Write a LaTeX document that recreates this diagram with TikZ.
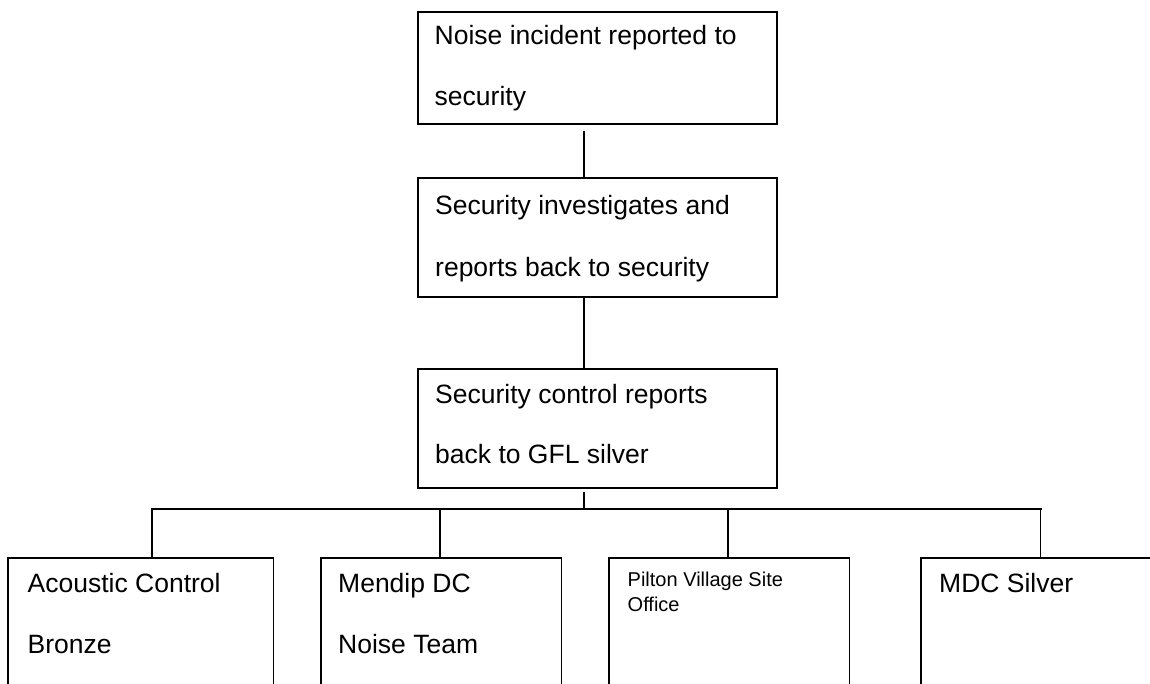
\documentclass[tikz,border=0pt]{standalone}
\usepackage{fontspec}
\setmainfont{Liberation Sans}
\begin{document}
\begin{tikzpicture}[x=1pt,y=-1pt,
  box/.style={draw, line width=1.8pt, rectangle, inner sep=0pt, anchor=north west},
  big/.style={font=\fontsize{26.5}{30}\selectfont, anchor=base west, inner sep=0pt},
  small/.style={font=\fontsize{20}{24}\selectfont, anchor=base west, inner sep=0pt},
  conn/.style={line width=1.4pt},
  bus/.style={line width=2pt, line cap=rect}]
\useasboundingbox (0,0) rectangle (1150,684);
\fill[white] (0,0) rectangle (1150,684);
\clip (0,0) rectangle (1150,684);
% top column boxes
\node[box, minimum width=359pt, minimum height=112pt] (b1) at (417,11) {};
\node[box, minimum width=359pt, minimum height=118.5pt] (b2) at (417,177.5) {};
\node[box, minimum width=359pt, minimum height=119pt] (b3) at (417,368) {};
% child boxes (cut off at the bottom)
\node[box, minimum width=265.5pt, minimum height=160pt] (a) at (7,557) {};
\node[box, minimum width=240.5pt, minimum height=160pt] (b) at (320,557) {};
\node[box, minimum width=240.5pt, minimum height=160pt] (c) at (608,557) {};
\node[box, minimum width=241pt, minimum height=160pt] (d) at (920,557) {};
% texts
\node[big] (t1a) at (434.5,45) {Noise incident reported to};
\node[big] (t1b) at (434.5,106) {security};
\node[big] (t2a) at (435,215) {Security investigates and};
\node[big] (t2b) at (435,277) {reports back to security};
\node[big] (t3a) at (435,403) {Security control reports};
\node[big] (t3b) at (435,463) {back to GFL silver};
\node[big] (tAa) at (27.5,592.7) {Acoustic Control};
\node[big] (tAb) at (27.5,653) {Bronze};
\node[big] (tBa) at (338,592.7) {Mendip DC};
\node[big] (tBb) at (338,653) {Noise Team};
\node[small] (tCa) at (627.5,586.7) {Pilton Village Site};
\node[small] (tCb) at (627.5,611.7) {Office};
\node[big] (tDa) at (939,592) {MDC Silver};
% connectors
\coordinate (c1) at (584,130.7);
\coordinate (j) at (584,509);
\coordinate (pA) at (152,509);
\coordinate (pB) at (440,509);
\coordinate (pC) at (728,509);
\coordinate (pD) at (1040.6,509);
\draw[conn] (c1) -- (c1 |- b2.north);
\draw[conn] (b2.south -| c1) -- (b3.north -| c1);
\draw[conn] ([yshift=-3pt]b3.south -| c1) -- (j);
\draw[bus] (pA) -- (pD);
\draw[conn] (pA) -- (pA |- a.north);
\draw[conn] (pB) -- (pB |- b.north);
\draw[conn] (pC) -- (pC |- c.north);
\draw[conn] (pD) -- (pD |- d.north);
\end{tikzpicture}
\end{document}
